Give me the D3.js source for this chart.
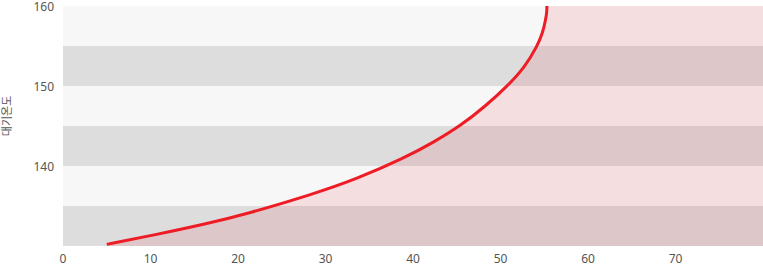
<!DOCTYPE html>
<html>
<head>
<meta charset="utf-8">
<script src="https://cdn.jsdelivr.net/npm/d3@7"></script>
<style>
body { margin: 0; background: #fff; }
text { font-family: "Noto Sans", "Noto Sans CJK KR", sans-serif; }
</style>
</head>
<body>
<script>
var width = 763,
    height = 266;

// curve points: x value, temperature
var curveX = [5, 10.5, 16.3, 21.3, 28.3, 33.4, 39.2, 42.4, 45.4, 48.3, 50.8, 52.8, 54.2, 54.8, 55.15, 55.3, 55.3];
var curveY = [130.2, 131.4, 132.75, 134.1, 136.4, 138.3, 141.1, 143, 145, 147.5, 150, 152.4, 155, 156.6, 158.2, 159.3, 160];
var xTicks = [0, 10, 20, 30, 40, 50, 60, 70];
var yTicks = [140, 150, 160];
var bands = [130, 135, 140, 145, 150, 155];
var yLabel = "대기온도";

var x = d3.scaleLinear().domain([0, 80]).range([63, 763]);
var y = d3.scaleLinear().domain([130, 160]).range([246, 6]);

var svg = d3.select("body").append("svg")
    .attr("width", width)
    .attr("height", height);

// stripes
svg.append("g").selectAll("rect")
    .data(bands)
    .enter().append("rect")
    .attr("x", x(0))
    .attr("width", x(80) - x(0))
    .attr("y", function(d) { return y(d + 5); })
    .attr("height", function(d) { return y(d) - y(d + 5); })
    .attr("fill", function(d, i) { return i % 2 == 0 ? "#dddddd" : "#f7f7f7"; });

var pts = curveX.map(function(v, i) { return [v, curveY[i]]; });

var area = d3.area()
    .curve(d3.curveBasis)
    .y(function(d) { return y(d[1]); })
    .x0(function(d) { return x(d[0]); })
    .x1(x(80));

svg.append("path")
    .datum([[5, 130]].concat(pts))
    .attr("d", area)
    .attr("fill", "rgba(237,28,36,0.11)");

var line = d3.line()
    .curve(d3.curveBasis)
    .x(function(d) { return x(d[0]); })
    .y(function(d) { return y(d[1]); });

svg.append("path")
    .datum(pts)
    .attr("d", line)
    .attr("fill", "none")
    .attr("stroke", "#ee1c25")
    .attr("stroke-width", 3);

// axes labels
svg.append("g").selectAll("text")
    .data(xTicks)
    .enter().append("text")
    .attr("x", function(d) { return x(d); })
    .attr("y", 263)
    .attr("text-anchor", "middle")
    .attr("font-size", 12)
    .attr("fill", "#555")
    .text(function(d) { return d; });

svg.append("g").selectAll("text")
    .data(yTicks)
    .enter().append("text")
    .attr("x", 54)
    .attr("y", function(d) { return y(d) + 5; })
    .attr("text-anchor", "end")
    .attr("font-size", 12)
    .attr("fill", "#555")
    .text(function(d) { return d; });

svg.append("text")
    .attr("transform", "translate(11,116) rotate(-90)")
    .attr("text-anchor", "middle")
    .attr("font-size", 11)
    .attr("font-family", "Noto Sans CJK KR")
    .attr("fill", "#555")
    .text(yLabel);
</script>
</body>
</html>
